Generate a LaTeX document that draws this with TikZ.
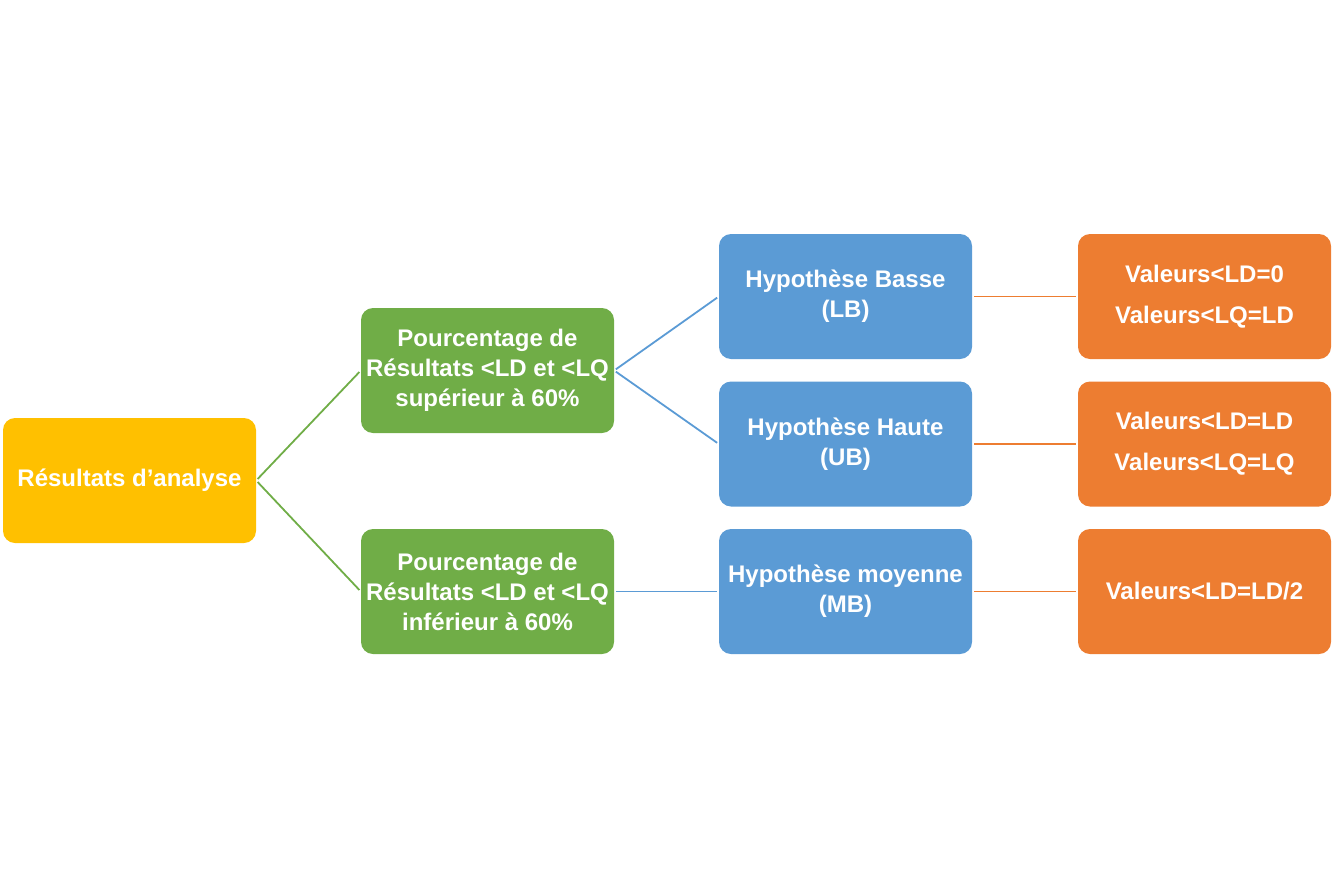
\documentclass[tikz,border=0pt]{standalone}
\usepackage{fontspec}
\setmainfont{Liberation Sans}
\definecolor{jaune}{HTML}{FFC000}
\definecolor{vert}{HTML}{70AD47}
\definecolor{bleu}{HTML}{5B9BD5}
\definecolor{orange}{HTML}{ED7D31}
\tikzset{
	boite/.style = {rounded corners = 12pt, minimum width = 253pt, minimum height = 125pt, inner sep = 0pt, align = center, text = white, font = \fontsize{24pt}{30pt}\selectfont\bfseries},
	lien/.style = {line width = 1.8pt, shorten < = 2pt, shorten > = 2pt}
}
\begin{document}
\begin{tikzpicture}[x = 1pt, y = -1pt]
	\useasboundingbox (0, 0) rectangle (1334, 889);
	% Nodes
	\node[boite, fill = jaune] (res) at (129.5, 480.5) {R\'esultats d'analyse};
	\node[boite, fill = vert] (g1) at (487.5, 370.5) {Pourcentage de\\R\'esultats <LD et <LQ\\sup\'erieur \`a 60\%};
	\node[boite, fill = vert] (g2) at (487.5, 591.5) {Pourcentage de\\R\'esultats <LD et <LQ\\inf\'erieur \`a 60\%};
	\node[boite, fill = bleu] (b1) at (845.5, 296.5) {Hypoth\`ese Basse\\(LB)};
	\node[boite, fill = bleu] (b2) at (845.5, 444) {Hypoth\`ese Haute\\(UB)};
	\node[boite, fill = bleu] (b3) at (845.5, 591.5) {Hypoth\`ese moyenne\\(MB)};
	\node[boite, fill = orange] (o1) at (1204.5, 296.5) {Valeurs<LD=0\\[11pt]Valeurs<LQ=LD};
	\node[boite, fill = orange] (o2) at (1204.5, 444) {Valeurs<LD=LD\\[11pt]Valeurs<LQ=LQ};
	\node[boite, fill = orange] (o3) at (1204.5, 591.5) {Valeurs<LD=LD/2};

	% Edges
	\draw[lien, color = vert] (res.east) -- (g1.west);
	\draw[lien, color = vert] (res.east) -- (g2.west);
	\draw[lien, color = bleu] (g1.east) -- (b1.west);
	\draw[lien, color = bleu] (g1.east) -- (b2.west);
	\draw[lien, color = bleu] (g2.east) -- (b3.west);
	\draw[lien, color = orange] (b1.east) -- (o1.west);
	\draw[lien, color = orange] (b2.east) -- (o2.west);
	\draw[lien, color = orange] (b3.east) -- (o3.west);
\end{tikzpicture}
\end{document}
